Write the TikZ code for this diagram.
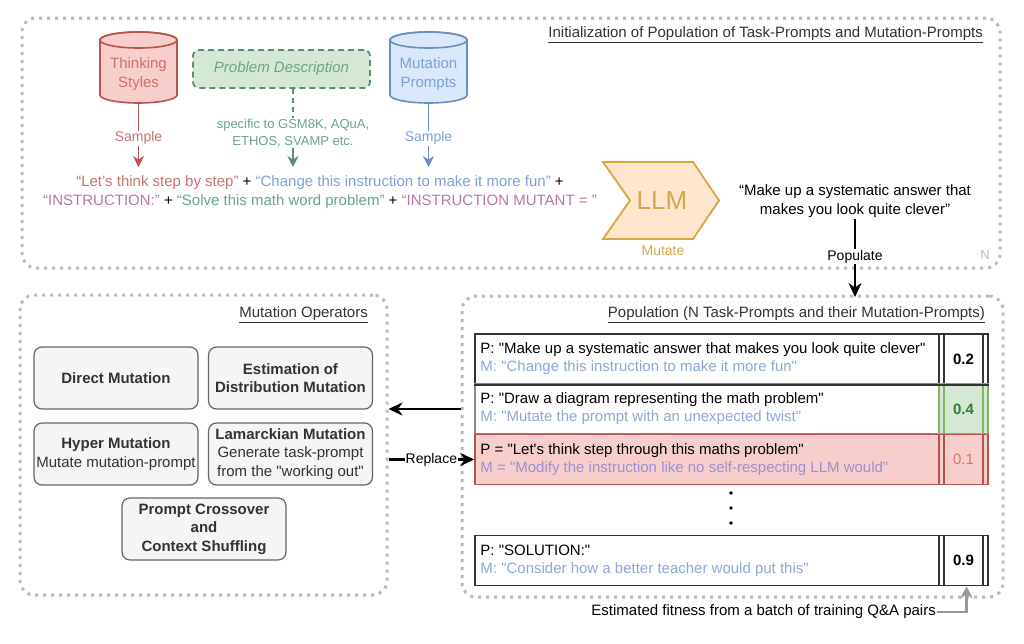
\documentclass[tikz,border=0pt]{standalone}
\usepackage{fontspec}
\setmainfont{Liberation Sans}[Ligatures=TeXOff]
\usetikzlibrary{arrows.meta,calc}
\definecolor{panelgray}{HTML}{BBBBBB}
\definecolor{redfill}{HTML}{F8CECC}
\definecolor{redline}{HTML}{B85450}
\definecolor{redtxt}{HTML}{C9736E}
\definecolor{bluefill}{HTML}{DAE8FC}
\definecolor{blueline}{HTML}{6C8EBF}
\definecolor{bluetxt}{HTML}{7FA0D2}
\definecolor{greenfill}{HTML}{D5E8D4}
\definecolor{greenline}{HTML}{5B8F74}
\definecolor{greentxt}{HTML}{6BA586}
\definecolor{purptxt}{HTML}{B57AA8}
\definecolor{orfill}{HTML}{FFE6CC}
\definecolor{orline}{HTML}{D9A441}
\definecolor{ortxt}{HTML}{D4A64E}
\definecolor{opfill}{HTML}{F5F5F5}
\definecolor{opline}{HTML}{666666}
\definecolor{optext}{HTML}{333333}
\definecolor{mtxt}{HTML}{8CA8D6}
\definecolor{mtxtred}{HTML}{9A92CC}
\definecolor{scoregreen}{HTML}{82B366}
\definecolor{scoregreentxt}{HTML}{2E7D32}
\definecolor{scoreredtxt}{HTML}{D9706C}
\definecolor{rowgray}{HTML}{888888}
\definecolor{fitgray}{HTML}{999999}
\tikzset{
  panel/.style={draw=panelgray, line width=3pt, dash pattern=on 3pt off 5pt, rounded corners=14pt},
  op/.style={draw=opline, fill=opfill, rounded corners=8pt, line width=1.2pt, minimum width=164pt, minimum height=62pt, align=center, text=optext, font=\fontsize{15}{18.5}\selectfont, inner sep=1pt},
  rowcell/.style={line width=1.5pt, minimum width=464pt, minimum height=50pt, inner sep=0pt},
  rowtext/.style={anchor=west, align=left, font=\fontsize{15}{18}\selectfont, inner sep=0pt},
  score/.style={line width=1.5pt, minimum width=49pt, minimum height=50pt, font=\bfseries\fontsize{15}{17}\selectfont,
    path picture={\draw[line width=1.2pt] ([xshift=5pt]path picture bounding box.north west) -- ([xshift=5pt]path picture bounding box.south west);
                  \draw[line width=1.2pt] ([xshift=-5pt]path picture bounding box.north east) -- ([xshift=-5pt]path picture bounding box.south east);}},
  bigarrow/.style={line width=2.6pt, -{Stealth[length=14pt,width=13pt]}},
  samplearrow/.style={line width=1.6pt, -{Stealth[length=11pt,width=11pt]}},
  lbl/.style={font=\fontsize{14}{16}\selectfont, inner sep=1pt},
  ttl/.style={font=\fontsize{15}{17}\selectfont, text=optext, inner sep=0pt},
}
\begin{document}
\begin{tikzpicture}[x=1pt,y=-1pt]
\useasboundingbox (0,0) rectangle (1024,643);
\fill[white] (0,0) rectangle (1024,643);

% ---------- panels ----------
\node[panel, minimum width=978pt, minimum height=250pt] (top) at (511,143) {};
\node[panel, minimum width=367pt, minimum height=300pt] (mo) at (203.5,445) {};
\node[panel, minimum width=541pt, minimum height=301pt] (pop) at (732.5,446.5) {};

\node[ttl, anchor=east] (ttop) at (983,35) {\underline{Initialization of Population of Task-Prompts and Mutation-Prompts}};
\node[ttl, anchor=east] (tmo) at (368,315) {\underline{Mutation Operators}};
\node[ttl, anchor=east] (tpop) at (985,315) {\underline{Population (N Task-Prompts and their Mutation-Prompts)}};
\node[font=\fontsize{13}{15}\selectfont, text=panelgray] (nlab) at (985,255) {N};

% ---------- cylinders ----------
\path[fill=redfill, draw=redline, line width=1.6pt] (100,40) -- (100,95) arc[start angle=180, end angle=0, x radius=38.5, y radius=8] -- (177,40) arc[start angle=0, end angle=-180, x radius=38.5, y radius=8] -- cycle;
\draw[redline, line width=1.6pt] (138.5,40) ellipse[x radius=38.5, y radius=8];
\node[align=center, text=redtxt, font=\fontsize{15}{18.5}\selectfont] (ts) at (138.5,74) {Thinking\\Styles};
\coordinate (tsb) at (138.5,103);

\path[fill=bluefill, draw=blueline, line width=1.6pt] (390,40) -- (390,95) arc[start angle=180, end angle=0, x radius=38.5, y radius=8] -- (467,40) arc[start angle=0, end angle=-180, x radius=38.5, y radius=8] -- cycle;
\draw[blueline, line width=1.6pt] (428.5,40) ellipse[x radius=38.5, y radius=8];
\node[align=center, text=bluetxt, font=\fontsize{15}{18.5}\selectfont] (mp) at (428.5,74) {Mutation\\Prompts};
\coordinate (mpb) at (428.5,103);

% ---------- problem description ----------
\node[draw=greenline, fill=greenfill, dash pattern=on 6pt off 4pt, line width=1.8pt, rounded corners=6pt,
      minimum width=177pt, minimum height=38pt, text=greentxt, font=\itshape\fontsize{15}{17}\selectfont] (pd) at (281.5,69) {Problem Description};
\node[align=center, text=greentxt, font=\fontsize{13}{17}\selectfont, inner sep=1pt] (spec) at (293,133) {specific to GSM8K, AQuA,\\ETHOS, SVAMP etc.};
\draw[greenline, line width=1.6pt, dash pattern=on 5pt off 4pt] (pd.south -| spec) -- (spec.north);
\coordinate (gend) at (293,167);
\draw[greenline, samplearrow] (spec.south) -- (gend);

% ---------- sample arrows ----------
\coordinate (rend) at (138.5,167);
\coordinate (bend) at (428.5,167);
\draw[redline, samplearrow] (tsb) -- node[pos=0.55, fill=white, text=redtxt, lbl]{Sample} (rend);
\draw[blueline, samplearrow] (mpb) -- node[pos=0.55, fill=white, text=bluetxt, lbl]{Sample} (bend);

% ---------- prompt text ----------
\node[align=center, font=\fontsize{15}{19}\selectfont] (prm) at (320,192.5) {%
{\color{redtxt}“Let’s think step by step”} + {\color{bluetxt}“Change this instruction to make it more fun”} +\\
{\color{purptxt}“INSTRUCTION:”} + {\color{greentxt}“Solve this math word problem”} + {\color{purptxt}“INSTRUCTION MUTANT = ”}};

% ---------- LLM chevron ----------
\path[fill=orfill, draw=orline, line width=1.8pt, line join=miter] (603,162) -- (693,162) -- (719,200.5) -- (693,239) -- (603,239) -- (630,200.5) -- cycle;
\node[text=ortxt, font=\fontsize{26}{28}\selectfont] (llm) at (662,200.5) {LLM};
\node[text=ortxt, font=\fontsize{14}{16}\selectfont] (mut) at (663,251) {Mutate};

% ---------- result ----------
\node[align=center, font=\fontsize{15}{18.5}\selectfont, inner sep=2pt] (mk) at (855,201) {“Make up a systematic answer that\\makes you look quite clever”};
\coordinate (popt) at (855,297);
\draw[bigarrow] (mk.south) -- node[pos=0.48, fill=white, lbl]{Populate} (popt);

% ---------- mutation operators ----------
\node[op] (dm) at (116,378) {\textbf{Direct Mutation}};
\node[op] (ed) at (290.5,378) {\textbf{Estimation of}\\\textbf{Distribution Mutation}};
\node[op] (hm) at (116,454) {\textbf{Hyper Mutation}\\Mutate mutation-prompt};
\node[op] (lm) at (290.5,454) {\textbf{Lamarckian Mutation}\\Generate task-prompt\\from the "working out"};
\node[op] (pc) at (204,529) {\textbf{Prompt Crossover}\\\textbf{and}\\\textbf{Context Shuffling}};

% ---------- population table ----------
\node[rowcell, draw=optext] (r1) at (707,359) {};
\node[rowtext] at ([xshift=6pt]r1.west) {P: "Make up a systematic answer that makes you look quite clever"\\{\color{mtxt}M: "Change this instruction to make it more fun"}};
\node[score, draw=optext] (s1) at (963.5,359) {0.2};

\node[rowcell, draw=rowgray] (r2) at (707,409) {};
\node[rowtext] at ([xshift=6pt]r2.west) {P: "Draw a diagram representing the math problem"\\{\color{mtxt}M: "Mutate the prompt with an unexpected twist"}};
\node[score, draw=scoregreen, fill=greenfill, text=scoregreentxt] (s2) at (963.5,409) {0.4};
\draw[optext, line width=1.5pt] (r1.south west) -- (s1.south east);

\node[rowcell, draw=redline, fill=redfill] (r3) at (707,459.5) {};
\node[rowtext] at ([xshift=6pt]r3.west) {P = "Let's think step through this maths problem"\\{\color{mtxtred}M = "Modify the instruction like no self-respecting LLM would"}};
\node[score, draw=redline, fill=redfill, text=scoreredtxt, font=\fontsize{15}{17}\selectfont] (s3) at (963.5,459.5) {0.1};

\fill (731,493) circle[radius=1.9];
\fill (731,508) circle[radius=1.9];
\fill (731,523) circle[radius=1.9];

\node[rowcell, draw=optext] (r4) at (707,560.5) {};
\node[rowtext] at ([xshift=6pt]r4.west) {P: "SOLUTION:"\\{\color{mtxt}M: "Consider how a better teacher would put this"}};
\node[score, draw=optext] (s4) at (963.5,560.5) {0.9};

\node[anchor=east, font=\fontsize{15}{17}\selectfont, inner sep=1pt] (ef) at (937,612) {Estimated fitness from a batch of training Q\&A pairs};
\draw[fitgray, line width=2.6pt, -{Stealth[length=12pt,width=12pt]}] (ef.east) -| ([xshift=3pt]s4.south);

% ---------- connectors between panels ----------
\draw[bigarrow] (pop.west |- r2.west) -- (mo.east |- r2.west);
\draw[bigarrow] (mo.east |- r3.west) -- node[fill=white, lbl]{Replace} (r3.west);
\end{tikzpicture}
\end{document}
